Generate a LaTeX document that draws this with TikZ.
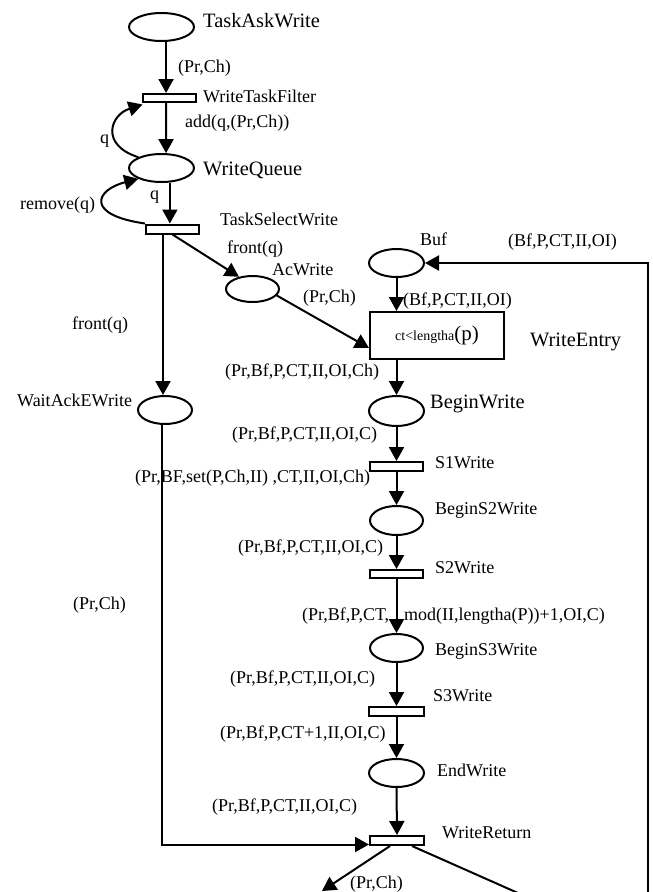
\documentclass[tikz,border=0pt]{standalone}
\usepackage{fontspec}
\setmainfont{Liberation Serif}
\usetikzlibrary{arrows.meta,shapes.geometric,calc}
\begin{document}
\begin{tikzpicture}[x=1pt,y=-1pt,
  place/.style={ellipse,draw,line width=2pt,inner sep=0pt},
  trans/.style={rectangle,draw,line width=2pt,inner sep=0pt},
  big/.style={font=\fontsize{20.4}{24}\selectfont, inner sep=0pt, anchor=base west},
  lbl/.style={font=\fontsize{18}{21}\selectfont, inner sep=0pt, anchor=base west},
  arr/.style={line width=2pt,-{Triangle[length=14pt,width=15pt]}},
  ln/.style={line width=2pt}]
\useasboundingbox[fill=white] (0,0) rectangle (653,892);
% places
\node[place,minimum width=65pt,minimum height=28pt] (taw) at (161.5,27) {};
\node[place,minimum width=65pt,minimum height=28pt] (wq) at (161.5,168) {};
\node[place,minimum width=53pt,minimum height=26pt] (acw) at (252.5,289) {};
\node[place,minimum width=55pt,minimum height=28pt] (buf) at (396.5,263) {};
\node[place,minimum width=55pt,minimum height=30pt] (bw) at (396.5,411) {};
\node[place,minimum width=54pt,minimum height=28pt] (wae) at (165,410) {};
\node[place,minimum width=53pt,minimum height=29pt] (bs2) at (396.5,520.5) {};
\node[place,minimum width=53pt,minimum height=28pt] (bs3) at (396.5,648) {};
\node[place,minimum width=55pt,minimum height=28pt] (ew) at (396.5,773) {};
% transitions
\node[trans,minimum width=53pt,minimum height=8pt] (wtf) at (169,98) {};
\node[trans,minimum width=53pt,minimum height=9pt] (tsw) at (172.5,229) {};
\node[trans,minimum width=53pt,minimum height=9pt] (s1) at (396.5,466.5) {};
\node[trans,minimum width=53pt,minimum height=8pt] (s2) at (396.5,574) {};
\node[trans,minimum width=55pt,minimum height=9pt] (s3) at (396.5,711.5) {};
\node[trans,minimum width=54pt,minimum height=9pt] (wr) at (397,840.5) {};
\node[trans,minimum width=134pt,minimum height=47pt] (we) at (437,335.5)
  {\fontsize{14}{16}\selectfont ct<lengtha\fontsize{21}{24}\selectfont(p)};
% free ends
\coordinate (rb) at (648,893);
\coordinate (outL) at (322,891);
\coordinate (outR) at (518,893);
\coordinate (t1) at ($(tsw.south)+(-9.5,0)$);
% arcs
\draw[arr] (taw.-73) -- (taw.-73 |- wtf.north);
\draw[arr] ($(wtf.south)+(-3,0)$) -- (wq.73);
\draw[arr] (wq.-60) -- (wq.-60 |- tsw.north);
\draw[arr] (wq.155) .. controls (100,145) and (110,115) .. ($(wtf.south west)+(1,1.5)$);
\draw[arr] (tsw.north west) .. controls (85,215) and (95,190) .. (wq.205);
\draw[arr] (t1) -- (t1 |- wae.north);
\draw[arr] (tsw.south) -- (acw.138);
\draw[arr] (acw.-15) -- ($(we.south west)+(0,-12)$);
\draw[arr] (buf.south) -- (buf.south |- we.north);
\draw[arr] (bw.north |- we.south) -- (bw.north);
\draw[arr] (bw.south) -- (s1.north);
\draw[arr] (s1.south) -- (bs2.north);
\draw[arr] (bs2.south) -- (s2.north);
\draw[arr] (s2.south) -- (bs3.north);
\draw[arr] (bs3.south) -- (s3.north);
\draw[arr] (s3.south) -- (ew.north);
\draw[arr] (ew.south) -- (wr.north);
\draw[arr] ($(wae.south)+(-3,0)$) |- ($(wr.south west)+(0,-1.5)$);
\draw[arr] (rb) |- (buf.east);
\draw[arr] ($(wr.south)+(-7,0)$) -- (outL);
\draw[ln] ($(wr.south)+(15,0)$) -- (outR);
% labels
\node[big] (Ltaw) at (203,27) {TaskAskWrite};
\node[big] (Lwq) at (203,175) {WriteQueue};
\node[big] (Lbw) at (430,408) {BeginWrite};
\node[big] (Lwe) at (530,346) {WriteEntry};
\node[lbl] (a1) at (178,72) {(Pr,Ch)};
\node[lbl] (Lwtf) at (203,102) {WriteTaskFilter};
\node[lbl] (a2) at (185,127) {add(q,(Pr,Ch))};
\node[lbl] (a3) at (100,143) {q};
\node[lbl] (a4) at (150,199) {q};
\node[lbl] (a5) at (20,209) {remove(q)};
\node[lbl] (Ltsw) at (220,225) {TaskSelectWrite};
\node[lbl] (a6) at (227,253) {front(q)};
\node[lbl] (Lacw) at (272,275) {AcWrite};
\node[lbl] (a7) at (303,302) {(Pr,Ch)};
\node[lbl] (Lbuf) at (420,245) {Buf};
\node[lbl] (a8) at (508,246) {(Bf,P,CT,II,OI)};
\node[lbl] (a9) at (403,305) {(Bf,P,CT,II,OI)};
\node[lbl] (a10) at (72,329) {front(q)};
\node[lbl] (a11) at (225,376) {(Pr,Bf,P,CT,II,OI,Ch)};
\node[lbl] (Lwae) at (17,406) {WaitAckEWrite};
\node[lbl] (a12) at (232,439) {(Pr,Bf,P,CT,II,OI,C)};
\node[lbl] (Ls1) at (435,468) {S1Write};
\node[lbl] (a13) at (135,482) {(Pr,BF,set(P,Ch,II) ,CT,II,OI,Ch)};
\node[lbl] (Lbs2) at (435,514) {BeginS2Write};
\node[lbl] (a14) at (238,552) {(Pr,Bf,P,CT,II,OI,C)};
\node[lbl] (Ls2) at (435,573) {S2Write};
\node[lbl] (a15) at (73,609) {(Pr,Ch)};
\node[lbl] (a16) at (302,620) {(Pr,Bf,P,CT,\hspace{15pt}mod(II,lengtha(P))+1,OI,C)};
\node[lbl] (Lbs3) at (435,655) {BeginS3Write};
\node[lbl] (a17) at (230,683) {(Pr,Bf,P,CT,II,OI,C)};
\node[lbl] (Ls3) at (433,701) {S3Write};
\node[lbl] (a18) at (220,738) {(Pr,Bf,P,CT+1,II,OI,C)};
\node[lbl] (Lew) at (437,776) {EndWrite};
\node[lbl] (a19) at (212,811) {(Pr,Bf,P,CT,II,OI,C)};
\node[lbl] (Lwr) at (442,838) {WriteReturn};
\node[lbl] (a20) at (350,888) {(Pr,Ch)};
\end{tikzpicture}
\end{document}
